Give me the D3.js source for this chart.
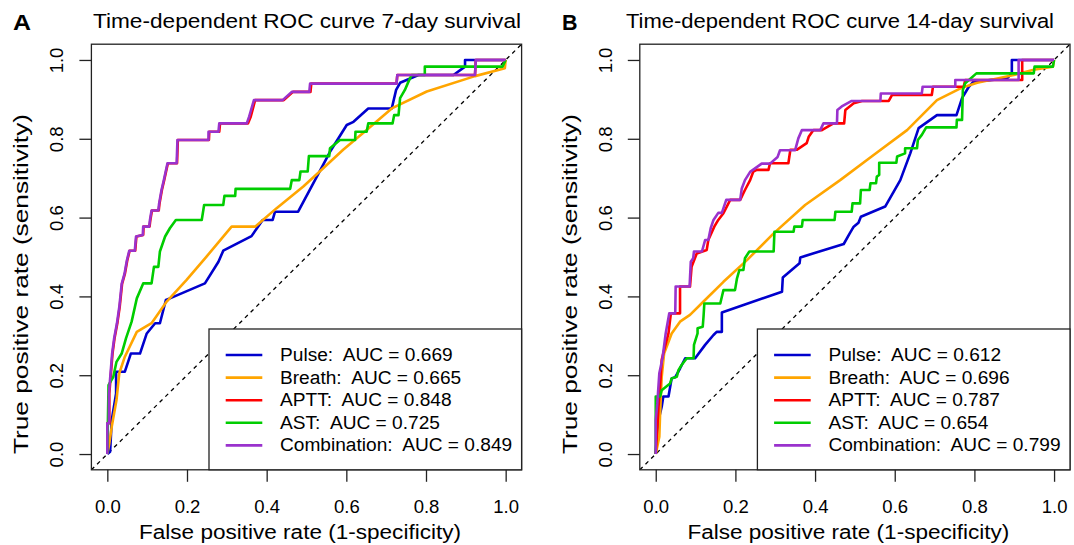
<!DOCTYPE html>
<html>
<head>
<meta charset="utf-8">
<script src="https://cdn.jsdelivr.net/npm/d3@7"></script>
<style>
  body { margin: 0; background: #fff; }
  text { font-family: "Liberation Sans", Arial, Helvetica, sans-serif; fill: #000; white-space: pre; }
</style>
</head>
<body>
<svg id="chart" width="1074" height="545"></svg>
<script>
// ---- data: (false positive rate, true positive rate) ----
const seriesNames = ['Pulse', 'Breath', 'APTT', 'AST', 'Combination'];
const seriesColors = ['#0000CD', '#FFA500', '#FF0000', '#00CD00', '#9A32CD'];
const auc7 = ['0.669', '0.665', '0.848', '0.725', '0.849'];
const auc14 = ['0.612', '0.696', '0.787', '0.654', '0.799'];
const ticks = [0, 0.2, 0.4, 0.6, 0.8, 1.0];
const tickLabels = ['0.0', '0.2', '0.4', '0.6', '0.8', '1.0'];

// 7-day survival
const pulse7 = [[0,0],[0.007,0.006],[0.011,0.086],[0.022,0.154],[0.022,0.209],[0.044,0.209],[0.059,0.255],[0.082,0.255],[0.099,0.306],[0.120,0.332],[0.132,0.332],[0.147,0.391],[0.157,0.395],[0.245,0.433],[0.279,0.488],[0.291,0.516],[0.362,0.553],[0.390,0.594],[0.415,0.594],[0.421,0.615],[0.479,0.615],[0.526,0.704],[0.559,0.767],[0.601,0.835],[0.618,0.843],[0.655,0.877],[0.714,0.877],[0.725,0.924],[0.735,0.942],[0.781,0.962],[0.869,0.962],[0.898,0.983],[0.898,1.0],[1,1]];
const breath7 = [[0,0],[0.005,0.027],[0.011,0.069],[0.023,0.137],[0.030,0.205],[0.044,0.247],[0.074,0.310],[0.111,0.332],[0.149,0.387],[0.199,0.442],[0.249,0.501],[0.312,0.577],[0.371,0.577],[0.425,0.624],[0.492,0.679],[0.542,0.725],[0.592,0.772],[0.651,0.822],[0.714,0.877],[0.802,0.920],[0.923,0.959],[0.998,0.979],[1,1]];
const aptt7 = [[0,0],[0,0.078],[0.005,0.078],[0.005,0.154],[0.009,0.204],[0.013,0.255],[0.018,0.293],[0.025,0.331],[0.031,0.373],[0.037,0.432],[0.044,0.457],[0.050,0.491],[0.056,0.516],[0.070,0.516],[0.073,0.552],[0.090,0.556],[0.091,0.577],[0.106,0.577],[0.108,0.594],[0.112,0.618],[0.129,0.618],[0.131,0.636],[0.137,0.670],[0.143,0.696],[0.152,0.738],[0.175,0.738],[0.177,0.797],[0.255,0.797],[0.256,0.818],[0.281,0.818],[0.283,0.839],[0.353,0.839],[0.360,0.856],[0.371,0.898],[0.443,0.898],[0.466,0.919],[0.510,0.919],[0.512,0.940],[0.726,0.940],[0.728,0.962],[0.923,0.962],[0.925,1.0],[1,1]];
const ast7 = [[0,0],[0.003,0.175],[0.015,0.196],[0.023,0.234],[0.036,0.255],[0.047,0.294],[0.061,0.336],[0.074,0.395],[0.090,0.433],[0.111,0.433],[0.117,0.475],[0.128,0.475],[0.132,0.514],[0.145,0.552],[0.157,0.573],[0.172,0.594],[0.237,0.594],[0.243,0.632],[0.291,0.632],[0.294,0.655],[0.321,0.655],[0.322,0.673],[0.459,0.673],[0.463,0.695],[0.482,0.695],[0.485,0.717],[0.503,0.717],[0.506,0.756],[0.557,0.756],[0.559,0.776],[0.584,0.797],[0.622,0.797],[0.623,0.818],[0.651,0.818],[0.655,0.839],[0.716,0.839],[0.720,0.860],[0.731,0.860],[0.735,0.903],[0.747,0.924],[0.756,0.945],[0.764,0.962],[0.797,0.962],[0.797,0.983],[0.992,0.983],[1,1]];
const comb7 = [[0,0],[0,0.078],[0.004,0.078],[0.004,0.154],[0.008,0.204],[0.012,0.255],[0.017,0.293],[0.024,0.331],[0.030,0.373],[0.036,0.432],[0.043,0.457],[0.049,0.491],[0.055,0.516],[0.069,0.516],[0.072,0.552],[0.089,0.556],[0.090,0.577],[0.105,0.577],[0.107,0.594],[0.111,0.618],[0.128,0.618],[0.130,0.636],[0.136,0.670],[0.142,0.696],[0.151,0.738],[0.174,0.738],[0.176,0.797],[0.254,0.797],[0.254,0.818],[0.279,0.818],[0.281,0.839],[0.350,0.839],[0.356,0.856],[0.368,0.898],[0.440,0.898],[0.463,0.919],[0.507,0.919],[0.509,0.940],[0.726,0.940],[0.728,0.962],[0.923,0.962],[0.925,1.0],[1,1]];

// 14-day survival
const pulse14 = [[0,0],[0.003,0.052],[0.007,0.086],[0.015,0.120],[0.019,0.146],[0.032,0.146],[0.040,0.192],[0.049,0.195],[0.061,0.217],[0.074,0.243],[0.099,0.243],[0.124,0.277],[0.145,0.302],[0.153,0.310],[0.166,0.310],[0.166,0.359],[0.317,0.412],[0.319,0.448],[0.361,0.484],[0.363,0.499],[0.472,0.533],[0.487,0.560],[0.497,0.577],[0.509,0.587],[0.515,0.602],[0.576,0.628],[0.614,0.695],[0.639,0.763],[0.660,0.827],[0.706,0.860],[0.755,0.860],[0.769,0.903],[0.786,0.932],[0.798,0.945],[0.882,0.953],[0.894,0.966],[0.894,1.0],[1,1]];
const breath14 = [[0,0],[0.003,0.014],[0.009,0.044],[0.011,0.103],[0.015,0.196],[0.021,0.255],[0.040,0.306],[0.061,0.336],[0.086,0.353],[0.120,0.387],[0.170,0.437],[0.229,0.492],[0.296,0.560],[0.375,0.632],[0.463,0.695],[0.547,0.759],[0.631,0.822],[0.706,0.898],[0.765,0.928],[0.807,0.942],[0.899,0.962],[0.949,0.975],[0.997,0.983],[1,1]];
const aptt14 = [[0,0],[0.003,0.052],[0.007,0.120],[0.011,0.171],[0.015,0.239],[0.023,0.272],[0.032,0.306],[0.038,0.357],[0.061,0.357],[0.061,0.425],[0.086,0.425],[0.090,0.475],[0.103,0.509],[0.128,0.518],[0.132,0.543],[0.147,0.577],[0.157,0.594],[0.170,0.611],[0.187,0.645],[0.212,0.645],[0.224,0.670],[0.237,0.695],[0.245,0.717],[0.254,0.721],[0.283,0.721],[0.287,0.738],[0.333,0.738],[0.338,0.772],[0.354,0.772],[0.379,0.789],[0.384,0.805],[0.396,0.822],[0.417,0.822],[0.446,0.839],[0.473,0.839],[0.476,0.873],[0.497,0.890],[0.518,0.896],[0.585,0.896],[0.593,0.911],[0.693,0.911],[0.696,0.932],[0.773,0.932],[0.777,0.949],[0.920,0.949],[0.920,1.0],[1,1]];
const ast14 = [[0,0],[0,0.146],[0.011,0.146],[0.015,0.162],[0.036,0.179],[0.040,0.192],[0.053,0.196],[0.057,0.213],[0.065,0.226],[0.078,0.243],[0.095,0.243],[0.096,0.277],[0.105,0.306],[0.105,0.319],[0.118,0.323],[0.120,0.349],[0.122,0.382],[0.162,0.382],[0.166,0.399],[0.170,0.416],[0.199,0.416],[0.204,0.446],[0.210,0.467],[0.220,0.467],[0.224,0.497],[0.235,0.514],[0.296,0.514],[0.298,0.564],[0.346,0.564],[0.348,0.577],[0.367,0.577],[0.369,0.594],[0.449,0.594],[0.451,0.615],[0.492,0.615],[0.494,0.636],[0.513,0.636],[0.515,0.670],[0.537,0.670],[0.539,0.687],[0.553,0.687],[0.555,0.704],[0.561,0.708],[0.561,0.739],[0.604,0.739],[0.606,0.755],[0.626,0.763],[0.626,0.776],[0.656,0.776],[0.658,0.797],[0.668,0.810],[0.679,0.829],[0.755,0.829],[0.756,0.848],[0.769,0.848],[0.771,0.924],[0.777,0.941],[0.805,0.966],[0.949,0.966],[0.951,0.983],[0.997,0.983],[1,1]];
const comb14 = [[0,0],[0,0.086],[0.004,0.129],[0.009,0.205],[0.017,0.243],[0.025,0.306],[0.034,0.357],[0.049,0.357],[0.050,0.425],[0.085,0.425],[0.088,0.488],[0.094,0.497],[0.096,0.514],[0.116,0.514],[0.124,0.543],[0.132,0.543],[0.138,0.573],[0.145,0.594],[0.157,0.612],[0.166,0.612],[0.177,0.645],[0.212,0.645],[0.216,0.674],[0.224,0.695],[0.237,0.716],[0.266,0.737],[0.287,0.737],[0.306,0.754],[0.312,0.771],[0.350,0.771],[0.358,0.801],[0.367,0.822],[0.413,0.822],[0.421,0.839],[0.455,0.839],[0.456,0.873],[0.467,0.882],[0.492,0.896],[0.564,0.896],[0.565,0.915],[0.668,0.915],[0.670,0.932],[0.752,0.932],[0.752,0.949],[0.911,0.949],[0.911,1.0],[1,1]];

const svg = d3.select('#chart');

function drawPanel(left, letter, letterX, title, titleX, curves, aucs) {
  const x = d3.scaleLinear().domain([-0.04, 1.04]).range([left, left + 430.2]);
  const y = d3.scaleLinear().domain([-0.04, 1.04]).range([469.8, 44.2]);
  const g = svg.append('g');

  // panel letter + title
  g.append('text').attr('x', letterX).attr('y', 30)
    .style('font-size', '22px').style('font-weight', 'bold')
    .attr('textLength', letter === 'A' ? 18 : 15.5).attr('lengthAdjust', 'spacingAndGlyphs')
    .text(letter);
  g.append('text').attr('x', titleX).attr('y', 28)
    .style('font-size', '20.5px')
    .attr('textLength', 428).attr('lengthAdjust', 'spacingAndGlyphs')
    .text(title);

  // clip for lines inside the box
  const clipId = 'clip' + letter;
  svg.append('clipPath').attr('id', clipId).append('rect')
    .attr('x', x(-0.04)).attr('y', y(1.04))
    .attr('width', x(1.04) - x(-0.04)).attr('height', y(-0.04) - y(1.04));

  // dashed reference line
  g.append('line')
    .attr('clip-path', 'url(#' + clipId + ')')
    .attr('x1', x(-0.04)).attr('y1', y(-0.04)).attr('x2', x(1.04)).attr('y2', y(1.04))
    .attr('stroke', '#000').attr('stroke-width', 1.3).attr('stroke-dasharray', '4,4');

  // roc curves
  const line = d3.line().x(d => x(d[0])).y(d => y(d[1]));
  curves.forEach((c, i) => {
    g.append('path').datum(c)
      .attr('clip-path', 'url(#' + clipId + ')')
      .attr('fill', 'none')
      .attr('stroke', seriesColors[i])
      .attr('stroke-width', 2.6)
      .attr('stroke-linejoin', 'round')
      .attr('d', line);
  });

  // box
  g.append('rect')
    .attr('x', x(-0.04)).attr('y', y(1.04))
    .attr('width', x(1.04) - x(-0.04)).attr('height', y(-0.04) - y(1.04))
    .attr('fill', 'none').attr('stroke', '#222').attr('stroke-width', 1.3);

  // axes
  const xAxis = g.append('g').attr('transform', 'translate(0,' + y(-0.04) + ')')
    .call(d3.axisBottom(x).tickValues(ticks).tickSize(12).tickFormat((d, i) => tickLabels[i]));
  const yAxis = g.append('g').attr('transform', 'translate(' + x(-0.04) + ',0)')
    .call(d3.axisLeft(y).tickValues(ticks).tickSize(12).tickFormat((d, i) => tickLabels[i]));
  [xAxis, yAxis].forEach(a => {
    a.select('.domain').remove();
    a.selectAll('.tick line').attr('stroke', '#222').attr('stroke-width', 1.3);
    a.selectAll('.tick text').style('font-size', '18.5px')
      .style('font-family', '"Liberation Sans", Arial, sans-serif').attr('fill', '#000');
  });
  xAxis.selectAll('.tick text').attr('y', 0).attr('dy', null).attr('transform', 'translate(0,43.5)');
  yAxis.selectAll('.tick text').attr('x', 0).attr('dy', null)
    .attr('text-anchor', 'middle')
    .attr('transform', 'translate(-28,0) rotate(-90)');

  // axis titles
  g.append('text').attr('x', left + 47.6).attr('y', 539)
    .style('font-size', '20px')
    .attr('textLength', 322).attr('lengthAdjust', 'spacingAndGlyphs')
    .text('False positive rate (1-specificity)');
  g.append('text')
    .attr('transform', 'translate(' + (left - 63) + ',454) rotate(-90)')
    .style('font-size', '20px')
    .attr('textLength', 340).attr('lengthAdjust', 'spacingAndGlyphs')
    .text('True positive rate (sensitivity)');

  // legend
  const lx = left + 117.6;
  const lg = g.append('g');
  lg.append('rect').attr('x', lx).attr('y', 329)
    .attr('width', x(1.04) - lx).attr('height', y(-0.04) - 329)
    .attr('fill', '#fff').attr('stroke', '#222').attr('stroke-width', 1.3);
  seriesNames.forEach((name, i) => {
    const by = 361 + i * 22.6;
    lg.append('line').attr('x1', lx + 16.7).attr('x2', lx + 53.3)
      .attr('y1', by - 6).attr('y2', by - 6)
      .attr('stroke', seriesColors[i]).attr('stroke-width', 2.6);
    const t = lg.append('text').attr('x', lx + 71).attr('y', by)
      .style('font-size', '18px')
      .text(name + ':  AUC = ' + aucs[i]);
    const w = t.node().getComputedTextLength();
    t.attr('textLength', w * 1.062).attr('lengthAdjust', 'spacingAndGlyphs');
  });
}

drawPanel(91.4, 'A', 13, 'Time-dependent ROC curve 7-day survival', 93,
  [pulse7, breath7, aptt7, ast7, comb7], auc7);
drawPanel(639.8, 'B', 562, 'Time-dependent ROC curve 14-day survival', 626,
  [pulse14, breath14, aptt14, ast14, comb14], auc14);
</script>
</body>
</html>
